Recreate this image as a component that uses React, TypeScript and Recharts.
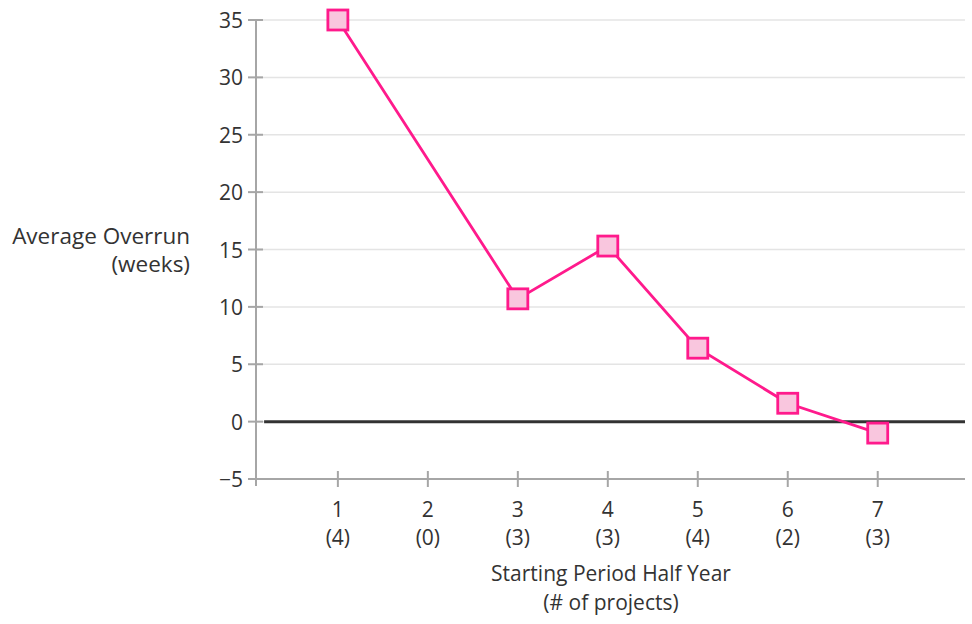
import * as React from "react";
import {
  LineChart,
  Line,
  XAxis,
  YAxis,
  CartesianGrid,
  ReferenceLine,
  Label,
} from "recharts";

// half-year periods, number of projects started in each, average overrun (weeks)
const periods = [1, 2, 3, 4, 5, 6, 7];
const projectCounts = [4, 0, 3, 3, 4, 2, 3];
const avgOverrun = [35, null, 10.7, 15.3, 6.4, 1.6, -1.0];
const yTicks = [-5, 0, 5, 10, 15, 20, 25, 30, 35];

const data = periods.map((p, i) => ({ period: p, overrun: avgOverrun[i] }));

const FONT = "'Open Sans', sans-serif";
const TEXT = "#333333";
const AXIS = "#a6a6a6";
const PINK = "#ff1a8c";

function YTick(props) {
  const { x, y, payload } = props;
  const v = payload.value;
  return (
    <g>
      <line x1={x - 8} x2={x + 7} y1={y} y2={y} stroke={AXIS} strokeWidth={2} />
      {v === -5 && (
        <>
          <line x1={x} x2={x} y1={y} y2={y + 7} stroke={AXIS} strokeWidth={2} />
          <line x1={x - 3} x2={x} y1={y} y2={y} stroke={AXIS} strokeWidth={2} />
        </>
      )}
      <text
        x={x - 13}
        y={y + 8}
        textAnchor="end"
        fontFamily={FONT}
        fontSize={21}
        fill={TEXT}
      >
        {v < 0 ? "\u2212" + Math.abs(v) : v}
      </text>
    </g>
  );
}

function XTick(props) {
  const { x, y, payload } = props;
  const v = payload.value;
  return (
    <g>
      <line x1={x} x2={x} y1={y - 8} y2={y + 8} stroke={AXIS} strokeWidth={2} />
      <text x={x} y={y + 38} textAnchor="middle" fontFamily={FONT} fontSize={21} fill={TEXT}>
        {v}
      </text>
      <text x={x} y={y + 66} textAnchor="middle" fontFamily={FONT} fontSize={21} fill={TEXT}>
        {`(${projectCounts[v - 1]})`}
      </text>
    </g>
  );
}

function SquareDot(props) {
  const { cx, cy, value } = props;
  if (value == null || cx == null || cy == null) return null;
  return (
    <rect
      x={cx - 10}
      y={cy - 10}
      width={20}
      height={20}
      fill="#f9c6de"
      stroke={PINK}
      strokeWidth={2.8}
    />
  );
}

export default function App() {
  return (
    <div style={{ position: "absolute", left: 0, top: 0 }}>
      <LineChart
        width={972}
        height={624}
        data={data}
        margin={{ top: 20, right: 7, left: 0, bottom: 0 }}
      >
        <CartesianGrid horizontal vertical={false} stroke="#e4e4e4" strokeWidth={1.5} />
        <XAxis
          dataKey="period"
          type="number"
          domain={[0.09, 7.97]}
          ticks={periods}
          height={145}
          tickSize={0}
          tickMargin={0}
          stroke={AXIS}
          strokeWidth={2}
          tick={<XTick />}
          interval={0}
        >
          <Label
            content={() => (
              <g fontFamily={FONT} fontSize={21} fill={TEXT}>
                <text x={611} y={581} textAnchor="middle">
                  Starting Period Half Year
                </text>
                <text x={611} y={610} textAnchor="middle">
                  (# of projects)
                </text>
              </g>
            )}
          />
        </XAxis>
        <YAxis
          type="number"
          domain={[-5, 35]}
          ticks={yTicks}
          width={256}
          tickSize={0}
          tickMargin={0}
          stroke={AXIS}
          strokeWidth={2}
          tick={<YTick />}
          interval={0}
        >
          <Label
            content={() => (
              <g fontFamily={FONT} fontSize={22.5} fill={TEXT}>
                <text x={190} y={244} textAnchor="end">
                  Average Overrun
                </text>
                <text x={190} y={272} textAnchor="end">
                  (weeks)
                </text>
              </g>
            )}
          />
        </YAxis>
        <ReferenceLine
          segment={[
            { x: 0.18, y: 0 },
            { x: 7.97, y: 0 },
          ]}
          stroke="#333333"
          strokeWidth={3}
        />
        <Line
          dataKey="overrun"
          stroke={PINK}
          strokeWidth={2.8}
          connectNulls
          dot={<SquareDot />}
          activeDot={false}
          isAnimationActive={false}
        />
      </LineChart>
    </div>
  );
}
